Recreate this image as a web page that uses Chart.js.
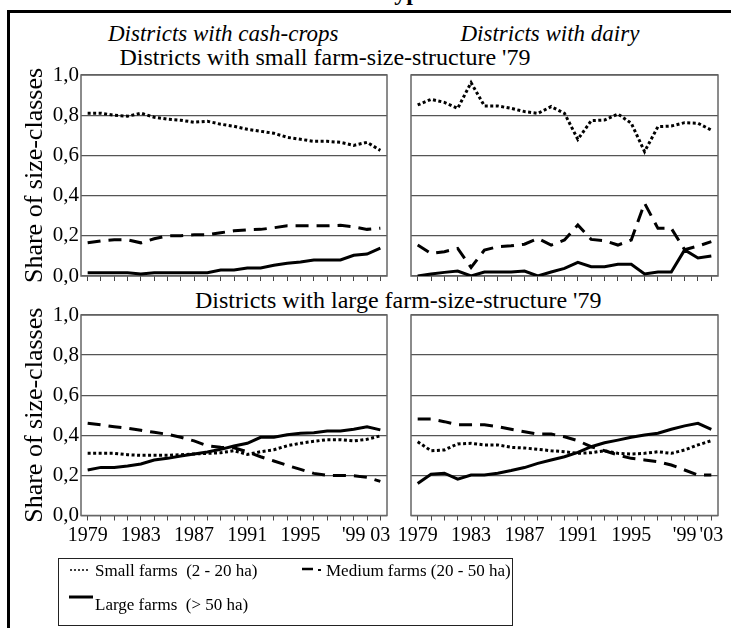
<!DOCTYPE html>
<html>
<head>
<meta charset="utf-8">
<script src="https://cdn.jsdelivr.net/npm/chart.js@4.4.1/dist/chart.umd.min.js"></script>
<style>
  body { margin: 0; background: #fff; }
  #page { position: relative; width: 731px; height: 628px; overflow: hidden; font-family: "Liberation Serif", "Times New Roman", Tinos, "DejaVu Serif", serif; color: #000; }
  canvas { position: absolute; }
  .txt { position: absolute; white-space: pre; line-height: 1; }
  .ital { font-style: italic; font-size: 23px; }
  .head { font-size: 24px; }
  .leg { font-size: 17px; }
</style>
</head>
<body>
<div id="page">
  <div style="position:absolute;left:8px;top:10px;width:723px;height:2.5px;background:#000"></div>
  <div style="position:absolute;left:7px;top:10px;width:2.5px;height:620px;background:#000"></div>
  <div class="txt" style="left:380px;top:-20px;font-size:24px;font-weight:bold">Types</div>

  <div class="txt ital" id="tCash" style="top:22px">Districts with cash-crops</div>
  <div class="txt ital" id="tDairy" style="top:22px">Districts with dairy</div>
  <div class="txt head" id="tSmall" style="top:45px">Districts with small farm-size-structure '79</div>
  <div class="txt head" id="tLarge" style="top:288px">Districts with large farm-size-structure '79</div>

  <canvas id="c1" width="392" height="225" style="left:0;top:60px"></canvas>
  <canvas id="c2" width="326" height="225" style="left:398px;top:60px"></canvas>
  <canvas id="c3" width="392" height="250" style="left:0;top:300px"></canvas>
  <canvas id="c4" width="326" height="250" style="left:398px;top:300px"></canvas>

  <div style="position:absolute;left:58px;top:558px;width:455px;height:68px;border:1.2px solid #222;box-sizing:border-box"></div>
  <svg style="position:absolute;left:0;top:0" width="731" height="628">
    <line x1="70" y1="570" x2="90" y2="570" stroke="#000" stroke-width="1.6" stroke-dasharray="2 2"/>
    <line x1="302" y1="569" x2="313" y2="569" stroke="#000" stroke-width="2.5"/>
    <line x1="318" y1="570" x2="321" y2="570" stroke="#000" stroke-width="2"/>
    <line x1="69" y1="597" x2="93" y2="597" stroke="#000" stroke-width="3"/>
  </svg>
  <div class="txt leg" style="left:95px;top:562px">Small farms  (2 - 20 ha)</div>
  <div class="txt leg" style="left:326px;top:562px">Medium farms (20 - 50 ha)</div>
  <div class="txt leg" style="left:95px;top:596px">Large farms  (&gt; 50 ha)</div>
</div>
<script>
// years of the census (yearly up to 1999, then 2001 and 2003)
const years = ['1979','1980','1981','1982','1983','1984','1985','1986','1987','1988','1989','1990',
               '1991','1992','1993','1994','1995','1996','1997','1998','1999','2001','2003'];
const yearLabelsCash = ['1979','','','','1983','','','','1987','','','','1991','','','','1995','','','',"'99",'','03'];
const yearLabelsDairy = ['1979','','','','1983','','','','1987','','','','1991','','','','1995','','','',"'99",'',"'03"];

// districts with small farm-size-structure '79 - cash-crops
const smallCashSmall  = [0.81,0.81,0.80,0.795,0.81,0.79,0.78,0.775,0.765,0.77,0.755,0.745,0.73,0.72,0.71,0.69,0.68,0.67,0.67,0.665,0.65,0.665,0.625];
const smallCashMedium = [0.165,0.175,0.18,0.18,0.165,0.185,0.2,0.2,0.205,0.205,0.215,0.225,0.23,0.232,0.24,0.25,0.25,0.25,0.25,0.252,0.245,0.232,0.238];
const smallCashLarge  = [0.016,0.016,0.016,0.016,0.01,0.016,0.016,0.016,0.016,0.016,0.03,0.03,0.04,0.04,0.053,0.063,0.07,0.08,0.08,0.08,0.103,0.109,0.139];

// districts with small farm-size-structure '79 - dairy
const smallDairySmall  = [0.851,0.879,0.864,0.834,0.962,0.846,0.846,0.834,0.818,0.809,0.843,0.809,0.68,0.773,0.776,0.806,0.76,0.619,0.743,0.746,0.763,0.76,0.726];
const smallDairyMedium = [0.154,0.112,0.121,0.137,0.043,0.129,0.146,0.15,0.158,0.187,0.154,0.179,0.254,0.182,0.176,0.154,0.179,0.362,0.237,0.237,0.131,0.149,0.171];
const smallDairyLarge  = [0,0.01,0.018,0.025,0,0.02,0.02,0.02,0.025,0,0.02,0.038,0.068,0.046,0.046,0.058,0.058,0.01,0.02,0.02,0.13,0.09,0.1];

// districts with large farm-size-structure '79 - cash-crops
const largeCashSmall  = [0.31,0.31,0.31,0.303,0.30,0.30,0.30,0.303,0.307,0.31,0.313,0.323,0.305,0.318,0.328,0.348,0.36,0.37,0.378,0.378,0.372,0.38,0.397];
const largeCashMedium = [0.46,0.452,0.443,0.435,0.425,0.415,0.405,0.39,0.372,0.348,0.34,0.338,0.318,0.293,0.272,0.25,0.23,0.21,0.2,0.2,0.198,0.19,0.17];
const largeCashLarge  = [0.227,0.24,0.24,0.247,0.257,0.277,0.285,0.297,0.307,0.317,0.33,0.347,0.36,0.39,0.39,0.403,0.41,0.413,0.421,0.421,0.43,0.443,0.427];

// districts with large farm-size-structure '79 - dairy
const largeDairySmall  = [0.368,0.323,0.327,0.357,0.36,0.352,0.352,0.34,0.337,0.33,0.323,0.318,0.31,0.313,0.323,0.31,0.307,0.31,0.318,0.31,0.327,0.352,0.373];
const largeDairyMedium = [0.481,0.481,0.468,0.452,0.452,0.452,0.443,0.43,0.418,0.406,0.406,0.393,0.373,0.343,0.323,0.302,0.285,0.277,0.268,0.252,0.227,0.202,0.202];
const largeDairyLarge  = [0.16,0.206,0.211,0.181,0.202,0.202,0.211,0.224,0.239,0.26,0.277,0.293,0.315,0.343,0.363,0.376,0.39,0.402,0.41,0.43,0.447,0.46,0.43];

// place the html titles by their centre
function centre(id, cx) {
    const el = document.getElementById(id);
    el.style.left = (cx - el.offsetWidth / 2) + 'px';
}
centre('tCash', 223);
centre('tDairy', 550);
centre('tSmall', 325);
centre('tLarge', 398);

// grey box round each plot
const frame = {
    id: 'frame',
    beforeDatasetsDraw(chart) {
        const a = chart.chartArea;
        const ctx = chart.ctx;
        ctx.save();
        ctx.strokeStyle = '#666';
        ctx.lineWidth = 1.5;
        ctx.strokeRect(a.left, a.top, a.right - a.left, a.bottom - a.top);
        ctx.restore();
    }
};

const serif = '"Liberation Serif", "Times New Roman", Tinos, "DejaVu Serif", serif';

function createPanel(id, small, medium, large, o) {
    new Chart(document.getElementById(id).getContext('2d'), {
        type: 'line',
        data: {
            labels: years,
            datasets: [
                { label: 'Small farms (2 - 20 ha)', data: small, borderDash: [3, 2.5] },
                { label: 'Medium farms (20 - 50 ha)', data: medium, borderDash: [13, 8] },
                { label: 'Large farms (> 50 ha)', data: large }
            ].map(d => Object.assign(d, {
                borderColor: '#000', borderWidth: 3, pointRadius: 0, tension: 0, fill: false, borderCapStyle: 'butt'
            }))
        },
        options: {
            responsive: false,
            animation: false,
            devicePixelRatio: 1,
            layout: { padding: { top: 15, right: o.right, left: 0, bottom: 0 } },
            plugins: { legend: { display: false }, tooltip: { enabled: false } },
            scales: {
                x: {
                    offset: true,
                    grid: { offset: false, drawOnChartArea: false, drawTicks: true, tickLength: 5, color: '#444', lineWidth: 1 },
                    border: { display: false },
                    ticks: {
                        display: o.xLabels !== null,
                        autoSkip: false, maxRotation: 0, padding: 3,
                        color: '#000',
                        font: { family: serif, size: 20 },
                        callback: (v, i) => o.xLabels ? o.xLabels[i] : ''
                    },
                    afterFit: s => { s.height = o.xHeight; s.paddingLeft = 0; s.paddingRight = 0; }
                },
                y: {
                    min: 0, max: 1,
                    grid: { drawTicks: false, color: '#555', lineWidth: 1.2 },
                    border: { display: false },
                    ticks: {
                        display: o.yLabels,
                        stepSize: 0.2, padding: 2,
                        color: '#000',
                        font: { family: serif, size: 21 },
                        callback: v => v.toFixed(1).replace('.', ',')
                    },
                    title: {
                        display: o.yLabels,
                        text: 'Share of size-classes',
                        color: '#000',
                        font: { family: serif, size: 26 },
                        padding: { top: 20, bottom: 0 }
                    },
                    afterFit: s => { s.width = o.yWidth; s.paddingTop = 0; s.paddingBottom = 0; }
                }
            }
        },
        plugins: [frame]
    });
}

createPanel('c1', smallCashSmall, smallCashMedium, smallCashLarge,
    { yLabels: true, yWidth: 81, xLabels: null, xHeight: 9, right: 5 });
createPanel('c2', smallDairySmall, smallDairyMedium, smallDairyLarge,
    { yLabels: false, yWidth: 13, xLabels: null, xHeight: 9, right: 6 });
createPanel('c3', largeCashSmall, largeCashMedium, largeCashLarge,
    { yLabels: true, yWidth: 81, xLabels: yearLabelsCash, xHeight: 34.5, right: 5 });
createPanel('c4', largeDairySmall, largeDairyMedium, largeDairyLarge,
    { yLabels: false, yWidth: 13, xLabels: yearLabelsDairy, xHeight: 34.5, right: 6 });
</script>
</body>
</html>
